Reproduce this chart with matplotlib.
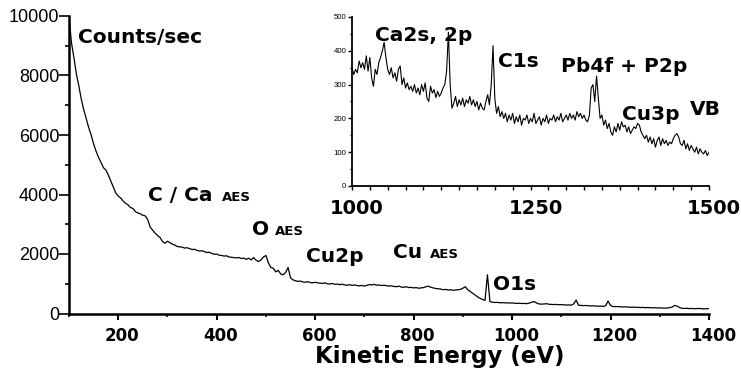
import numpy as np
import matplotlib
matplotlib.use("Agg")
import matplotlib.pyplot as plt
from matplotlib.ticker import MultipleLocator
from matplotlib.transforms import ScaledTranslation

# main survey spectrum, 100..1400 eV in 5 eV steps
survey_ke = np.arange(100, 1401, 5)
survey_counts = [
    10000, 9100, 8600, 8050, 7650, 7200, 6850, 6550, 6250, 6000,
    5700, 5450, 5250, 5080, 4900, 4820, 4650, 4450, 4250, 4050,
    3950, 3880, 3780, 3700, 3650, 3560, 3530, 3420, 3380, 3350,
    3300, 3280, 3150, 2900, 2800, 2700, 2620, 2550, 2420, 2360,
    2430, 2380, 2330, 2300, 2250, 2240, 2230, 2200, 2210, 2180,
    2150, 2160, 2120, 2100, 2110, 2080, 2050, 2060, 2020, 1990,
    2000, 1960, 1950, 1930, 1940, 1900, 1890, 1880, 1870, 1880,
    1850, 1860, 1820, 1860, 1800, 1880, 1790, 1750, 1800, 1900,
    1950, 1700, 1550, 1520, 1400, 1450, 1330, 1300, 1380, 1550,
    1200, 1130, 1100, 1080, 1090, 1060, 1050, 1070, 1040, 1030,
    1050, 1030, 1020, 1010, 1030, 1000, 990, 1010, 980, 990,
    970, 985, 960, 950, 970, 945, 960, 940, 930, 945,
    920, 950, 970, 960, 980, 950, 960, 940, 950, 935,
    920, 930, 910, 900, 920, 890, 880, 900, 870, 880,
    860, 870, 850, 860, 870, 900, 920, 880, 860, 840,
    830, 820, 800, 810, 790, 800, 780, 790, 800, 810,
    850, 900, 800, 740, 680, 620, 560, 510, 470, 440,
    1300, 400, 380, 370, 375, 360, 365, 355, 360, 350,
    355, 345, 340, 345, 335, 340, 330, 350, 380, 400,
    350, 320, 315, 320, 330, 310, 305, 300, 305, 295,
    300, 290, 285, 290, 280, 320, 450, 280, 270, 265,
    270, 260, 255, 260, 250, 245, 250, 240, 260, 420,
    270, 235, 230, 235, 225, 220, 225, 215, 210, 215,
    205, 210, 200, 205, 195, 200, 195, 190, 195, 185,
    190, 185, 180, 185, 195, 215, 270, 250, 200, 175,
    170, 175, 165, 170, 160, 165, 170, 160, 155, 160,
    165,
]

# high energy window, 1000..1500 eV in 2.5 eV steps
detail_ke = np.arange(0, 201) * 2.5 + 1000
detail_counts = [
    350, 330, 345, 335, 370, 350, 365, 345, 385, 340,
    380, 320, 295, 345, 330, 365, 380, 400, 425, 380,
    345, 330, 350, 320, 335, 310, 345, 355, 300, 320,
    290, 305, 285, 295, 280, 300, 275, 290, 270, 300,
    280, 305, 260, 250, 295, 275, 285, 262, 280, 265,
    275, 290, 300, 340, 455, 300, 230, 245, 265, 235,
    255, 240, 260, 235, 255, 245, 265, 240, 255, 235,
    250, 225, 245, 230, 225, 250, 270, 240, 300, 415,
    260, 215, 235, 205, 220, 200, 215, 190, 210, 195,
    215, 185, 205, 190, 210, 180, 200, 195, 210, 185,
    200, 190, 215, 185, 195, 205, 180, 200, 190, 210,
    185, 200, 195, 210, 190, 205, 195, 215, 190, 200,
    210, 195, 215, 200, 210, 195, 220, 205, 215, 200,
    210, 195, 190, 210, 290, 300, 250, 325, 260, 200,
    210, 180, 195, 170, 185, 160, 150, 175, 160, 185,
    165, 190, 175, 180, 160, 175, 155, 165, 175, 170,
    185, 180, 160, 150, 140, 150, 130, 145, 125, 140,
    115, 135, 145, 120, 140, 125, 135, 120, 130, 125,
    140, 150, 155, 145, 125, 120, 135, 110, 125, 105,
    120, 110, 100, 115, 95, 110, 100, 95, 105, 90,
    100,
]

survey_ticks = [200, 400, 600, 800, 1000, 1200, 1400]
count_ticks = [0, 2000, 4000, 6000, 8000, 10000]
detail_ticks = [1000, 1250, 1500]

BOLD = "DejaVu Sans"
PLAIN = "Liberation Sans"

fig = plt.figure(figsize=(7.41, 3.69), dpi=100)
W, H = 741.0, 369.0


def nudge(labels, dx_px):
    # shift tick labels sideways a few pixels, like the original
    off = ScaledTranslation(dx_px / 100.0, 0, fig.dpi_scale_trans)
    for lab in labels:
        lab.set_transform(lab.get_transform() + off)


ax = fig.add_axes([69 / W, 1 - 313.5 / H, 640 / W, 297.5 / H])
ax.plot(survey_ke, survey_counts, color="black", lw=0.9)
ax.set_xlim(100, 1400)
ax.set_ylim(0, 10000)
for s in ["top", "right"]:
    ax.spines[s].set_visible(False)
for s in ["left", "bottom"]:
    ax.spines[s].set_linewidth(1.8)
ax.set_xticks(survey_ticks)
ax.xaxis.set_minor_locator(MultipleLocator(100))
ax.set_yticks(count_ticks)
ax.yaxis.set_minor_locator(MultipleLocator(1000))
ax.tick_params(axis="x", which="major", direction="out", length=4, width=1.5, pad=6)
ax.tick_params(axis="x", which="minor", direction="out", length=2.5, width=1.2)
ax.tick_params(axis="y", which="major", direction="out", length=7, width=1.2, pad=0)
ax.tick_params(axis="y", which="minor", direction="out", length=3, width=1.2)
for lab in ax.get_xticklabels():
    lab.set_fontfamily(BOLD)
    lab.set_fontweight("bold")
    lab.set_fontsize(12)
for lab in ax.get_yticklabels():
    lab.set_fontfamily(PLAIN)
    lab.set_fontsize(13)
nudge(ax.get_xticklabels(), 4)

big = dict(fontfamily=BOLD, fontweight="bold", fontsize=14.5, va="baseline", ha="left")
small = dict(fontfamily=BOLD, fontweight="bold", fontsize=9.5, va="baseline", ha="left")
ax.text(118, 9092, "Counts/sec", **big)
ax.text(260, 3782, "C / Ca", **big)
ax.text(411, 3782, "AES", **small)
ax.text(472, 2639, "O", **big)
ax.text(518, 2639, "AES", **small)
ax.text(581, 1720, "Cu2p", **big)
ax.text(758, 1849, "Cu", **big)
ax.text(833, 1849, "AES", **small)
ax.text(961, 790, "O1s", **big)

fig.text(440 / W, 1 - 357 / H, "Kinetic Energy (eV)", fontfamily=BOLD,
         fontweight="bold", fontsize=16.5, ha="center", va="center")

# inset
ins = fig.add_axes([352 / W, 1 - 186 / H, 357 / W, 169 / H])
ins.plot(detail_ke, detail_counts, color="black", lw=0.8)
ins.set_xlim(1000, 1500)
ins.set_ylim(0, 500)
for s in ["top", "right"]:
    ins.spines[s].set_visible(False)
for s in ["left", "bottom"]:
    ins.spines[s].set_linewidth(1.3)
ins.set_xticks(detail_ticks)
ins.xaxis.set_minor_locator(MultipleLocator(25))
ins.yaxis.set_major_locator(MultipleLocator(100))
ins.yaxis.set_minor_locator(MultipleLocator(50))
ins.tick_params(axis="x", which="both", direction="out", length=3, width=1.0, pad=6)
ins.tick_params(axis="y", which="major", direction="out", length=3, width=1.0, pad=1)
ins.tick_params(axis="y", which="minor", direction="out", length=1.5, width=1.0)
for lab in ins.get_xticklabels():
    lab.set_fontfamily(BOLD)
    lab.set_fontweight("bold")
    lab.set_fontsize(14)
for lab in ins.get_yticklabels():
    lab.set_fontfamily(PLAIN)
    lab.set_fontsize(5.6)
nudge(ins.get_xticklabels(), 5)

ins.text(1032, 429, "Ca2s, 2p", **big)
ins.text(1204, 352, "C1s", **big)
ins.text(1293, 337, "Pb4f + P2p", **big)
ins.text(1378, 195, "Cu3p", **big)
ins.text(1473, 210, "VB", **big)

fig.savefig("out.png", dpi=100)
